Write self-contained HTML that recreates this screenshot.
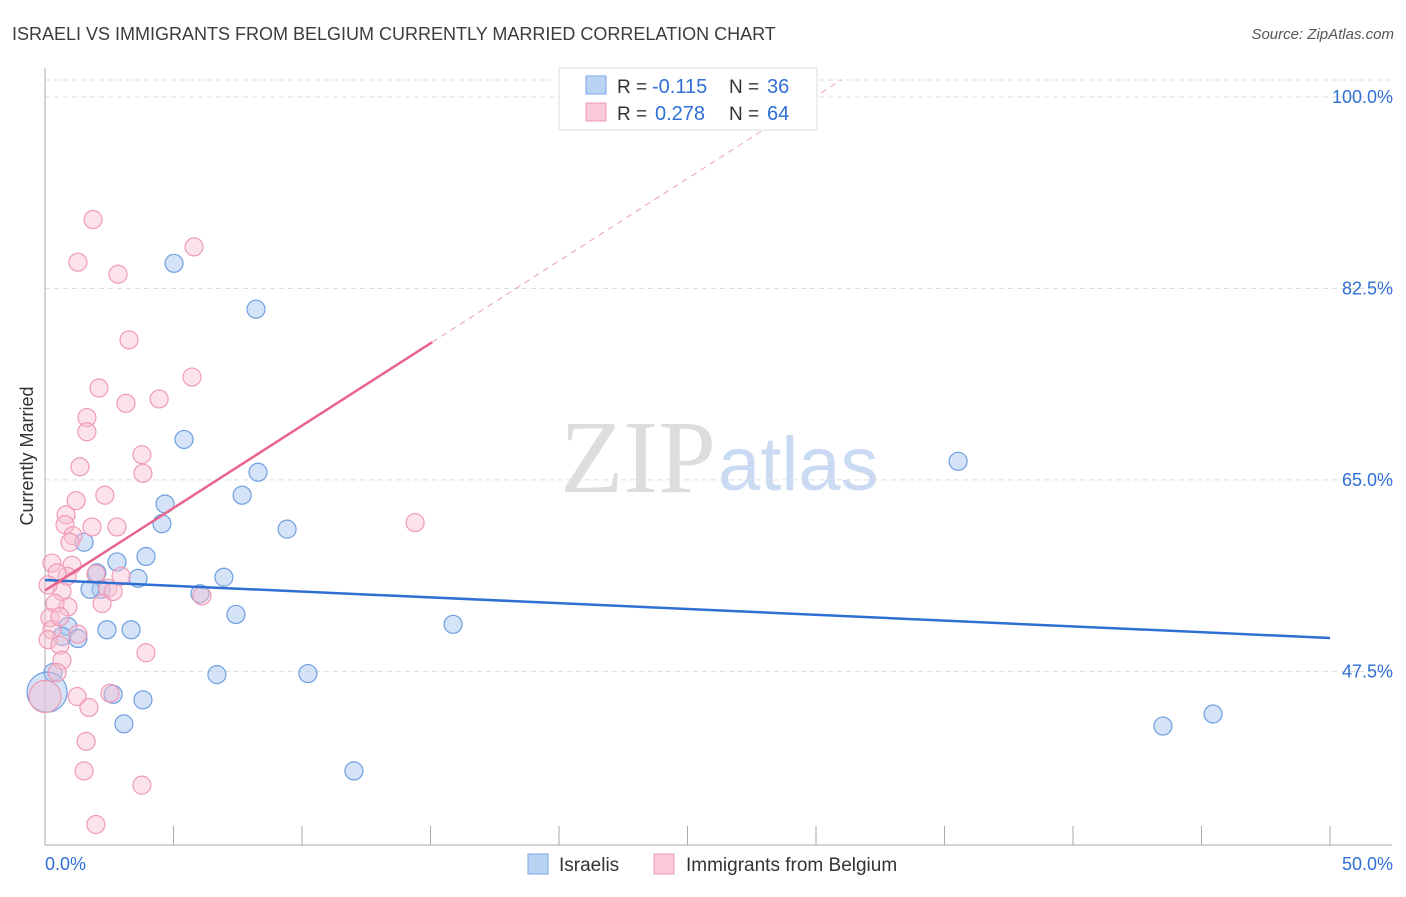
<!DOCTYPE html>
<html><head><meta charset="utf-8"><style>
body{margin:0;background:#fff;font-family:"Liberation Sans",sans-serif}
</style></head><body>
<svg id="c" width="1406" height="892" xmlns="http://www.w3.org/2000/svg">
<text x="12" y="40" font-size="18" fill="#3c3c3c">ISRAELI VS IMMIGRANTS FROM BELGIUM CURRENTLY MARRIED CORRELATION CHART</text>
<text x="1394" y="39" font-size="15" fill="#555" text-anchor="end" font-style="italic">Source: ZipAtlas.com</text>
<text x="716" y="492" font-size="104" fill="#ddd" text-anchor="end" font-family="Liberation Serif">ZIP</text>
<text x="718" y="490" font-size="76" fill="#c9daf2">atlas</text>
<text transform="translate(33,456) rotate(-90)" font-size="18" fill="#333" text-anchor="middle">Currently Married</text>
<g id="grid"></g><g id="pts"></g><g id="lines"></g>
<g>
<rect x="559" y="68" width="258" height="62" fill="#fff" stroke="#ddd"/>
<rect x="586" y="76" width="20" height="18" fill="#b9d3f5" stroke="#7aa6e6"/>
<rect x="586" y="103" width="20" height="18" fill="#fbc9d8" stroke="#ee9ab4"/>
<text x="617" y="93" font-size="19" fill="#333">R =</text>
<text x="652" y="93" font-size="20" fill="#2f6fd6">-0.115</text>
<text x="729" y="93" font-size="19" fill="#333">N =</text>
<text x="767" y="93" font-size="20" fill="#2f6fd6">36</text>
<text x="617" y="120" font-size="19" fill="#333">R =</text>
<text x="655" y="120" font-size="20" fill="#2f6fd6">0.278</text>
<text x="729" y="120" font-size="19" fill="#333">N =</text>
<text x="767" y="120" font-size="20" fill="#2f6fd6">64</text>
</g>
<g>
<rect x="528" y="854" width="20" height="20" fill="#b9d3f5" stroke="#7aa6e6"/>
<text x="559" y="871" font-size="19" fill="#333">Israelis</text>
<rect x="654" y="854" width="20" height="20" fill="#fbc9d8" stroke="#ee9ab4"/>
<text x="686" y="871" font-size="19" fill="#333">Immigrants from Belgium</text>
</g>
</svg>
<script>
const yTicks=[100,82.5,65,47.5];
const xTickLabels=["0.0%","50.0%"];
const blueX=[5.02,8.21,5.41,8.29,7.67,4.67,4.55,9.42,1.52,3.93,2.80,2.02,3.62,6.96,2.18,1.75,6.03,7.43,15.88,0.89,2.41,3.35,1.28,0.66,6.69,10.23,0.31,2.65,3.81,3.07,12.02,35.53,43.50,45.45,0.08];
const blueY=[84.8,80.6,68.7,65.7,63.6,62.8,61.0,60.5,59.3,58.0,57.5,56.5,56.0,56.1,55.0,55.0,54.6,52.7,51.8,51.6,51.3,51.3,50.5,50.7,47.2,47.3,47.4,45.4,44.9,42.7,38.4,66.7,42.5,43.6,45.6];
const pinkX=[1.87,5.80,1.28,2.84,3.27,5.72,2.10,3.15,4.44,1.63,1.63,3.77,3.81,1.36,1.21,2.33,0.82,0.78,1.83,2.80,1.09,0.97,14.40,0.27,1.05,1.98,2.96,0.86,0.47,2.45,2.65,0.66,2.22,0.89,0.39,0.19,0.27,1.28,0.12,0.58,0.66,0.47,3.93,6.11,2.53,1.25,1.71,1.60,1.52,3.77,1.98,0,0.58,0.12];
const pinkY=[88.8,86.3,84.9,83.8,77.8,74.4,73.4,72.0,72.4,70.7,69.4,67.3,65.6,66.2,63.1,63.6,61.8,60.9,60.7,60.7,59.9,59.3,61.1,57.4,57.2,56.4,56.2,56.2,56.5,55.1,54.8,54.8,53.7,53.4,53.7,52.4,51.3,50.9,50.4,49.9,48.5,47.4,49.2,54.4,45.5,45.2,44.2,41.1,38.4,37.1,33.5,45.2,52.5,55.4];
const blueTrend=[55.85,50.55];
const pinkTrend=[54.9,1.506];
const sx=v=>45+v*25.7, sy=v=>97+(100-v)*10.94;
const NS="http://www.w3.org/2000/svg";
function mk(tag,attrs,parent){const e=document.createElementNS(NS,tag);for(const k in attrs)e.setAttribute(k,attrs[k]);parent.appendChild(e);return e;}
const grid=document.getElementById('grid'),pts=document.getElementById('pts'),lines=document.getElementById('lines');
let g=mk('line',{x1:45,x2:1392,y1:80,y2:80,stroke:'#ddd','stroke-dasharray':'5,4'},grid);


yTicks.forEach(t=>{
 const l=mk('line',{x1:45,x2:1392,y1:sy(t),y2:sy(t),stroke:'#ddd','stroke-dasharray':'5,4'},grid);
 
 
 const tx=mk('text',{x:1393,y:sy(t)+6,'font-size':18,fill:'#2f6fd6','text-anchor':'end'},grid);
 tx.textContent=t.toFixed(1)+'%';
 
 
});
let ax=mk('line',{x1:45,x2:45,y1:68,y2:845,stroke:'#aaa'},grid);


let bx=mk('line',{x1:45,x2:1392,y1:845,y2:845,stroke:'#aaa'},grid);


for(let i=0;i<=10;i++){const x=sx(i*5);
 const t=mk('line',{x1:x,x2:x,y1:826,y2:845,stroke:'#aaa'},grid);
 
 }
[[0,'start',45],[1,'end',1393]].forEach(([i,a,x])=>{const t=mk('text',{x:x,y:870,'font-size':18,fill:'#2f6fd6','text-anchor':a},grid);t.textContent=xTickLabels[i];
 
 });
blueX.forEach((v,i)=>{const r=(i===blueX.length-1)?20:9;
 const c=mk('circle',{cx:sx(v),cy:sy(blueY[i]),r:r,fill:'rgba(170,200,240,0.5)',stroke:'#6f9fe0','stroke-width':1.2},pts);
 
 });
pinkX.forEach((v,i)=>{const r=(i===51)?16:9;
 const c=mk('circle',{cx:sx(v),cy:sy(pinkY[i]),r:r,fill:'rgba(248,190,208,0.45)',stroke:'#ef9ab6','stroke-width':1.2},pts);
 
 });
let bl=mk('line',{x1:sx(0),y1:sy(blueTrend[0]),x2:sx(50),y2:sy(blueTrend[1]),stroke:'#2d6fd2','stroke-width':2.5},lines);


const pEnd=15.06, pTop=(101.6-pinkTrend[0])/pinkTrend[1];
let pl=mk('line',{x1:sx(0),y1:sy(pinkTrend[0]),x2:sx(pEnd),y2:sy(pinkTrend[0]+pinkTrend[1]*pEnd),stroke:'#e8648f','stroke-width':2.5},lines);


let pd=mk('line',{x1:sx(pEnd),y1:sy(pinkTrend[0]+pinkTrend[1]*pEnd),x2:sx(pTop),y2:sy(101.6),stroke:'#eaa0b8','stroke-width':1,'stroke-dasharray':'6,5'},lines);


</script>
</body></html>
